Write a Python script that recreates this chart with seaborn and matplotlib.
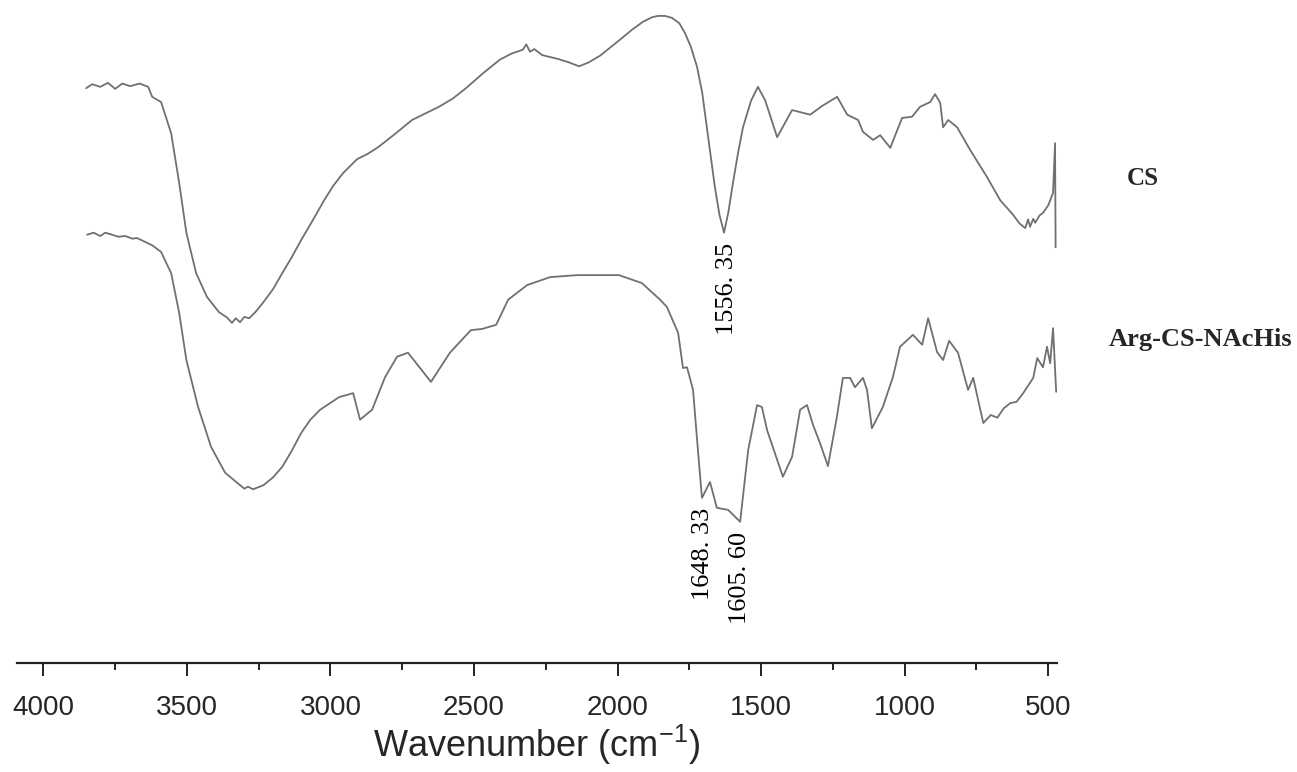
import pandas as pd
import matplotlib
matplotlib.use("Agg")
import matplotlib.pyplot as plt
import seaborn as sns

# FTIR spectra (wavenumber in cm-1, transmittance in arbitrary %)
cs_wn = [3851, 3830, 3802, 3775, 3750, 3725, 3698, 3665, 3635, 3621, 3590, 3555, 3527,
         3502, 3468, 3430, 3388, 3360, 3343, 3330, 3315, 3300, 3283, 3260, 3234, 3200,
         3168, 3135, 3102, 3060, 3022, 2990, 2956, 2907, 2870, 2834, 2775, 2716, 2622,
         2575, 2528, 2470, 2410, 2370, 2330, 2318, 2305, 2290, 2263, 2207, 2170, 2134,
         2100, 2061, 1992, 1950, 1912, 1880, 1859, 1835, 1810, 1785, 1765, 1745, 1723,
         1705, 1689, 1661, 1645, 1629, 1614, 1598, 1580, 1563, 1535, 1511, 1486, 1444,
         1392, 1329, 1288, 1235, 1200, 1162, 1145, 1110, 1085, 1050, 1009, 974, 946, 911,
         894, 876, 866, 848, 817, 772, 713, 667, 622, 600, 580, 570, 563, 552, 545, 530,
         518, 500, 483, 476, 474]
cs_t = [86.7, 87.3, 86.9, 87.5, 86.6, 87.4, 87.0, 87.4, 86.9, 85.4, 84.6, 79.9, 72.4,
        64.9, 58.8, 55.2, 52.9, 52.1, 51.3, 52.0, 51.4, 52.2, 52.0, 53.0, 54.4, 56.4,
        58.8, 61.2, 63.8, 66.9, 69.8, 72.0, 73.9, 76.0, 76.8, 77.8, 79.8, 81.9, 83.9,
        85.1, 86.7, 88.9, 91.0, 91.9, 92.5, 93.3, 92.2, 92.6, 91.7, 91.1, 90.6, 90.0,
        90.6, 91.6, 94.0, 95.5, 96.7, 97.4, 97.6, 97.6, 97.3, 96.5, 95.0, 93.0, 89.9,
        86.0, 80.8, 71.8, 67.6, 64.9, 68.0, 72.4, 77.0, 80.8, 84.8, 86.9, 84.9, 79.3,
        83.4, 82.7, 84.0, 85.4, 82.7, 81.9, 80.1, 78.9, 79.6, 77.7, 82.2, 82.4, 83.9,
        84.6, 85.8, 84.5, 80.8, 81.9, 80.8, 77.4, 73.3, 69.8, 67.6, 66.3, 65.6, 66.9,
        65.8, 67.0, 66.4, 67.5, 67.9, 69.0, 70.9, 78.4, 62.7]

arg_wn = [3848, 3825, 3802, 3785, 3768, 3740, 3715, 3690, 3674, 3621, 3590, 3555, 3527,
          3502, 3461, 3416, 3367, 3320, 3300, 3287, 3270, 3234, 3200, 3168, 3135, 3102,
          3070, 3036, 2970, 2921, 2897, 2855, 2810, 2768, 2730, 2690, 2650, 2584, 2511,
          2470, 2440, 2423, 2381, 2315, 2235, 2141, 1995, 1915, 1852, 1828, 1789, 1772,
          1758, 1737, 1720, 1706, 1678, 1654, 1615, 1573, 1545, 1514, 1497, 1479, 1424,
          1392, 1364, 1340, 1319, 1295, 1267, 1236, 1215, 1190, 1173, 1145, 1131, 1114,
          1076, 1041, 1016, 971, 939, 918, 887, 866, 845, 814, 779, 761, 726, 700, 677,
          655, 632, 610, 587, 552, 538, 518, 504, 493, 483, 472]
arg_t = [64.6, 64.9, 64.4, 64.9, 64.7, 64.3, 64.4, 64.0, 64.1, 63.0, 62.0, 58.8, 52.8,
         45.7, 38.6, 32.6, 28.7, 27.0, 26.3, 26.6, 26.2, 26.8, 28.0, 29.6, 32.0, 34.7,
         36.7, 38.2, 40.1, 40.7, 36.7, 38.2, 43.1, 46.2, 46.8, 44.6, 42.4, 46.8, 50.2,
         50.4, 50.8, 51.0, 54.8, 57.0, 58.2, 58.5, 58.5, 57.3, 54.8, 53.7, 49.8, 44.5,
         44.6, 41.2, 32.1, 24.9, 27.3, 23.4, 23.1, 21.3, 32.1, 38.9, 38.6, 35.1, 28.1,
         31.1, 38.2, 38.9, 35.9, 33.2, 29.7, 37.1, 43.0, 43.0, 41.6, 43.0, 41.2, 35.4,
         38.6, 43.1, 47.7, 49.5, 48.0, 52.0, 46.9, 45.7, 48.6, 46.8, 41.2, 43.0, 36.2,
         37.4, 37.0, 38.4, 39.2, 39.4, 40.7, 43.0, 46.0, 44.6, 47.7, 45.2, 50.5, 40.9]

# peak labels: (text, wavenumber, transmittance at top of text)
peak_text = ["1556. 35", "1648. 33", "1605. 60"]
peak_x = [1619, 1703, 1574]
peak_y = [63.3, 23.4, 19.8]

df = pd.concat([
    pd.DataFrame({"wn": cs_wn, "T": cs_t, "sample": "CS"}),
    pd.DataFrame({"wn": arg_wn, "T": arg_t, "sample": "Arg-CS-NAcHis"}),
])

sns.set_style("white")
plt.rcParams["font.family"] = ["Liberation Sans", "DejaVu Sans"]

fig = plt.figure(figsize=(12.97, 7.72), dpi=100)
ax = fig.add_axes([0.0131, 0.1412, 0.8019, 0.8588])

sns.lineplot(data=df, x="wn", y="T", units="sample", estimator=None, sort=False,
             color="#707070", linewidth=1.3, ax=ax)

ax.set_xlim(4092, 469)
ax.set_ylim(0, 100)
ax.set_xticks(range(500, 4001, 500))
ax.set_xticks(range(750, 4001, 500), minor=True)
ax.set_yticks([])
ax.set_ylabel("")
for s in ["left", "right", "top"]:
    ax.spines[s].set_visible(False)
ax.spines["bottom"].set_linewidth(1.6)
ax.spines["bottom"].set_color("#222222")
ax.tick_params(axis="x", which="major", direction="out", length=9, width=1.4,
               color="#222222", labelsize=20, pad=14, bottom=True)
ax.tick_params(axis="x", which="minor", direction="out", length=5, width=1.4,
               color="#222222", bottom=True)
ax.set_xlabel("Wavenumber (cm$^{\\mathregular{-1}}$)", fontsize=26, labelpad=1)

for txt, x, y in zip(peak_text, peak_x, peak_y):
    ax.text(x, y, txt, rotation=90, ha="center", va="top", fontsize=19,
            family="Liberation Serif", color="#000000")

fig.text(0.881, 0.769, "CS", ha="center", va="center", fontsize=18,
         family="Liberation Serif", fontweight="bold")
fig.text(0.926, 0.560, "Arg-CS-NAcHis", ha="center", va="center", fontsize=19,
         family="Liberation Serif", fontweight="bold")

fig.savefig("out.png", dpi=100)
